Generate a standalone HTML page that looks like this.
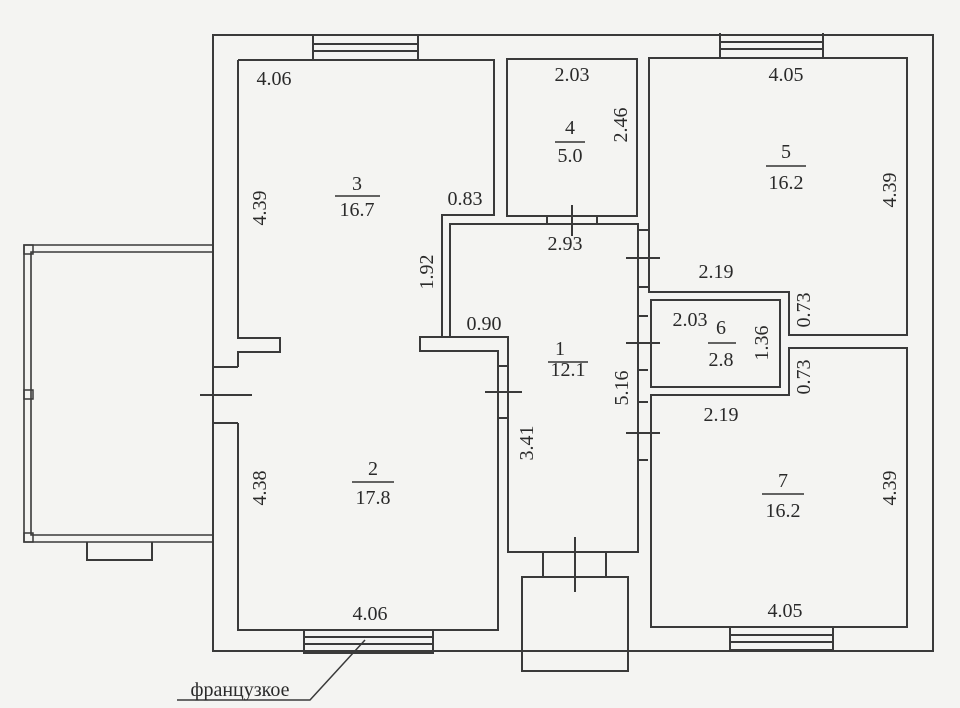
<!DOCTYPE html>
<html><head><meta charset="utf-8"><style>
html,body{margin:0;padding:0;background:#f4f4f2;}
svg{display:block}
text{font-family:"Liberation Serif",serif;fill:#2a2a2a;font-size:20px}
</style></head><body>
<svg width="960" height="708" viewBox="0 0 960 708" xmlns="http://www.w3.org/2000/svg">
<rect width="960" height="708" fill="#f4f4f2"/>
<g fill="none" stroke="#3a3a3a" stroke-width="2">
<path d="M213,35 H933 V651 H213 Z"/>
<path d="M238,60 H494 V215 H442 V337 H420 V351 H498 V630 H238 V423 M238,367 V352 H280 V338 H238 V60"/>
<line x1="213" y1="367" x2="238" y2="367"/><line x1="213" y1="423" x2="238" y2="423"/>
<line x1="200" y1="395" x2="252" y2="395"/>
<path d="M420,337 H508 V552 H638 V224 H450 V337"/>
<line x1="485" y1="392" x2="522" y2="392"/>
<line x1="498" y1="366" x2="508" y2="366"/><line x1="498" y1="418" x2="508" y2="418"/>
<line x1="638" y1="230" x2="648" y2="230"/><line x1="638" y1="287" x2="648" y2="287"/>
<line x1="626" y1="258" x2="660" y2="258"/>
<line x1="638" y1="316" x2="648" y2="316"/><line x1="638" y1="370" x2="648" y2="370"/>
<line x1="626" y1="343" x2="660" y2="343"/>
<line x1="638" y1="402" x2="648" y2="402"/><line x1="638" y1="460" x2="648" y2="460"/>
<line x1="626" y1="433" x2="660" y2="433"/>
<path d="M507,59 H637 V216 H507 Z"/>
<line x1="547" y1="216" x2="547" y2="224"/><line x1="597" y1="216" x2="597" y2="224"/>
<line x1="572" y1="205" x2="572" y2="236"/>
<path d="M649,58 H907 V335 H789 V292 H649 Z"/>
<path d="M651,300 H780 V387 H651 Z"/>
<path d="M651,395 H789 V348 H907 V627 H651 Z"/>
<path d="M313,35 V60 H418 V35 M313,44 H418 M313,51 H418"/>
<path d="M720,33 V58 H823 V33 M720,42 H823 M720,49 H823"/>
<path d="M304,630 V653 H433 V630 M304,637 H433 M304,644 H433"/>
<path d="M730,627 V650 H833 V627 M730,635 H833 M730,642 H833"/>
<line x1="543" y1="552" x2="543" y2="577"/><line x1="606" y1="552" x2="606" y2="577"/>
<path d="M522,577 H628 V671 H522 Z"/>
<line x1="575" y1="537" x2="575" y2="592"/>
<path d="M213,245 H24 V542 H213 M213,252 H31 V535 H213" stroke-width="1.6"/>
<rect x="24" y="245" width="9" height="9" stroke-width="1.5"/>
<rect x="24" y="390" width="9" height="9" stroke-width="1.5"/>
<rect x="24" y="533" width="9" height="9" stroke-width="1.5"/>
<path d="M87,542 V560 H152 V542"/>
<path d="M177,700 H310 L365,640" stroke-width="1.5"/>
</g>
<g text-anchor="middle">
<text x="274" y="85">4.06</text>
<text x="357" y="190">3</text><line x1="335" y1="196" x2="380" y2="196" stroke="#333" stroke-width="1.5"/><text x="357" y="216">16.7</text>
<text x="465" y="205">0.83</text>
<text x="266" y="208" transform="rotate(-90 266 208)">4.39</text>
<text x="433" y="272" transform="rotate(-90 433 272)">1.92</text>
<text x="484" y="330">0.90</text>
<text x="572" y="81">2.03</text>
<text x="570" y="134">4</text><line x1="555" y1="142" x2="585" y2="142" stroke="#333" stroke-width="1.5"/><text x="570" y="162">5.0</text>
<text x="627" y="125" transform="rotate(-90 627 125)">2.46</text>
<text x="786" y="81">4.05</text>
<text x="786" y="158">5</text><line x1="766" y1="166" x2="806" y2="166" stroke="#333" stroke-width="1.5"/><text x="786" y="189">16.2</text>
<text x="896" y="190" transform="rotate(-90 896 190)">4.39</text>
<text x="565" y="250">2.93</text>
<text x="716" y="278">2.19</text>
<text x="810" y="310" transform="rotate(-90 810 310)">0.73</text>
<text x="690" y="326">2.03</text>
<text x="721" y="334">6</text><line x1="708" y1="343" x2="736" y2="343" stroke="#333" stroke-width="1.5"/><text x="721" y="366">2.8</text>
<text x="768" y="343" transform="rotate(-90 768 343)">1.36</text>
<text x="810" y="377" transform="rotate(-90 810 377)">0.73</text>
<text x="560" y="355">1</text><line x1="548" y1="362" x2="588" y2="362" stroke="#333" stroke-width="1.5"/><text x="568" y="376">12.1</text>
<text x="628" y="388" transform="rotate(-90 628 388)">5.16</text>
<text x="721" y="421">2.19</text>
<text x="533" y="443" transform="rotate(-90 533 443)">3.41</text>
<text x="266" y="488" transform="rotate(-90 266 488)">4.38</text>
<text x="373" y="475">2</text><line x1="352" y1="482" x2="394" y2="482" stroke="#333" stroke-width="1.5"/><text x="373" y="504">17.8</text>
<text x="783" y="487">7</text><line x1="762" y1="494" x2="804" y2="494" stroke="#333" stroke-width="1.5"/><text x="783" y="517">16.2</text>
<text x="896" y="488" transform="rotate(-90 896 488)">4.39</text>
<text x="370" y="620">4.06</text>
<text x="785" y="617">4.05</text>
<text x="240" y="696">французкое</text>
</g>
</svg>
</body></html>
